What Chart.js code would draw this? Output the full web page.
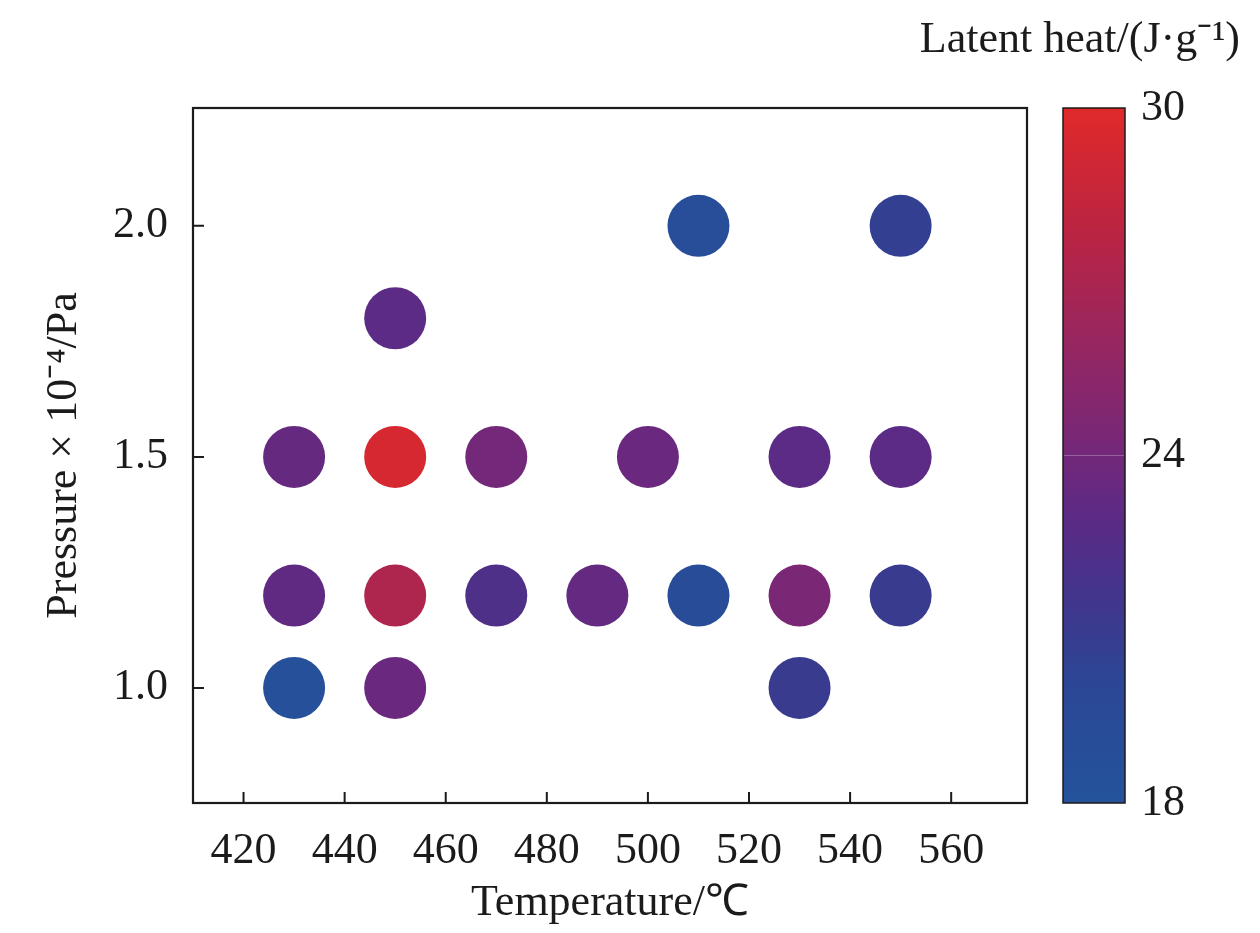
<!DOCTYPE html>
<html>
<head>
<meta charset="utf-8">
<script src="https://cdn.jsdelivr.net/npm/chart.js@4/dist/chart.umd.min.js"></script>
<style>
  html, body { margin: 0; padding: 0; background: #fff; }
  canvas { display: block; }
</style>
</head>
<body>
<canvas id="chart" width="1260" height="933"></canvas>
<script>
// measured points: temperature (°C), pressure (x10^-4 Pa), latent heat (J/g)
const temps     = [430, 450, 530, 430, 450, 470, 490, 510, 530, 550, 430, 450, 470, 500, 530, 550, 450, 510, 550];
const pressures = [1.0, 1.0, 1.0, 1.2, 1.2, 1.2, 1.2, 1.2, 1.2, 1.2, 1.5, 1.5, 1.5, 1.5, 1.5, 1.5, 1.8, 2.0, 2.0];
const heats     = [18.5, 23.6, 21.0, 23.2, 27.2, 22.2, 23.3, 19.2, 24.4, 21.0, 23.4, 29.4, 24.0, 23.6, 22.9, 22.9, 22.9, 19.0, 20.6];

const xTicks = [420, 440, 460, 480, 500, 520, 540, 560];
const yTicks = [1.0, 1.5, 2.0];
const barTicks = [18, 24, 30];

// colour bar stops (value -> colour)
const stopValues = [18, 20, 21, 22, 23, 24, 26, 28, 30];
const stopColors = ['#24539b', '#2b4796', '#393b8f', '#4a318a', '#5d2a84', '#73287a', '#982660', '#bd2440', '#e02a2a'];

const font = "'Liberation Serif', 'Times New Roman', serif";
const ink = '#1c1a1b';

function hexToRgb(h) {
  return [1, 3, 5].map(i => parseInt(h.slice(i, i + 2), 16));
}

function heatColor(v) {
  if (v <= stopValues[0]) return stopColors[0];
  for (let i = 1; i < stopValues.length; i++) {
    if (v <= stopValues[i]) {
      const t = (v - stopValues[i - 1]) / (stopValues[i] - stopValues[i - 1]);
      const a = hexToRgb(stopColors[i - 1]), b = hexToRgb(stopColors[i]);
      const c = a.map((x, k) => Math.round(x + (b[k] - x) * t));
      return `rgb(${c[0]},${c[1]},${c[2]})`;
    }
  }
  return stopColors[stopColors.length - 1];
}

const decor = {
  id: 'decor',
  afterDraw(chart) {
    const { ctx, chartArea: a, scales } = chart;
    ctx.save();
    // frame
    ctx.strokeStyle = ink;
    ctx.lineWidth = 2.2;
    ctx.strokeRect(a.left, a.top, a.right - a.left, a.bottom - a.top);
    // inward ticks
    ctx.lineWidth = 2;
    ctx.beginPath();
    xTicks.forEach(t => {
      const x = scales.x.getPixelForValue(t);
      ctx.moveTo(x, a.bottom); ctx.lineTo(x, a.bottom - 11);
    });
    yTicks.forEach(t => {
      const y = scales.y.getPixelForValue(t);
      ctx.moveTo(a.left, y); ctx.lineTo(a.left + 11, y);
    });
    ctx.stroke();

    // axis titles
    ctx.fillStyle = ink;
    ctx.font = `44px ${font}`;
    ctx.textAlign = 'center';
    ctx.textBaseline = 'middle';
    ctx.fillText('Temperature/\u2103', (a.left + a.right) / 2 + 0, 903);
    ctx.save();
    ctx.translate(64, (a.top + a.bottom) / 2);
    ctx.rotate(-Math.PI / 2);
    ctx.fillText('Pressure \u00d7 10\u207b\u2074/Pa', 0, 0);
    ctx.restore();

    // colour bar
    const bx = 1063, bw = 62, top = a.top, bot = a.bottom;
    const g = ctx.createLinearGradient(0, bot, 0, top);
    stopValues.forEach((v, i) => {
      g.addColorStop((v - stopValues[0]) / (stopValues[stopValues.length - 1] - stopValues[0]), stopColors[i]);
    });
    ctx.fillStyle = g;
    ctx.fillRect(bx, top, bw, bot - top);
    ctx.strokeStyle = ink;
    ctx.lineWidth = 1.5;
    ctx.strokeRect(bx, top, bw, bot - top);
    ctx.fillStyle = ink;
    ctx.textAlign = 'left';
    barTicks.forEach(v => {
      const y = bot - (v - barTicks[0]) / (barTicks[barTicks.length - 1] - barTicks[0]) * (bot - top);
      ctx.fillText(String(v), bx + bw + 16, y);
      if (v !== barTicks[0] && v !== barTicks[barTicks.length - 1]) {
        ctx.strokeStyle = 'rgba(255,255,255,0.25)';
        ctx.lineWidth = 1;
        ctx.beginPath();
        ctx.moveTo(bx + 1, y); ctx.lineTo(bx + bw - 1, y);
        ctx.stroke();
      }
    });
    ctx.font = `44px ${font}`;
    ctx.textAlign = 'right';
    ctx.fillText('Latent heat/(J\u00b7g\u207b\u00b9)', 1240, 40);
    ctx.restore();
  }
};

new Chart(document.getElementById('chart'), {
  type: 'scatter',
  data: {
    datasets: [{
      data: temps.map((t, i) => ({ x: t, y: pressures[i] })),
      backgroundColor: heats.map(heatColor),
      borderWidth: 0,
      pointRadius: 31,
      pointHoverRadius: 31
    }]
  },
  options: {
    responsive: false,
    animation: false,
    devicePixelRatio: 1,
    layout: { padding: { top: 108, right: 233, left: 0, bottom: 0 } },
    plugins: { legend: { display: false }, tooltip: { enabled: false } },
    scales: {
      x: {
        type: 'linear',
        min: 410, max: 575,
        afterBuildTicks: s => { s.ticks = xTicks.map(v => ({ value: v })); },
        afterFit: s => { s.height = 130; },
        grid: { display: false, drawTicks: false },
        border: { display: false },
        ticks: { color: ink, padding: 22, font: { family: font, size: 44 }, maxRotation: 0 }
      },
      y: {
        type: 'linear',
        min: 0.751, max: 2.255,
        afterBuildTicks: s => { s.ticks = yTicks.map(v => ({ value: v })); },
        afterFit: s => { s.width = 193; },
        grid: { display: false, drawTicks: false },
        border: { display: false },
        ticks: { color: ink, padding: 25, font: { family: font, size: 44 },
          callback: v => v.toFixed(1) }
      }
    }
  },
  plugins: [decor]
});
</script>
</body>
</html>
